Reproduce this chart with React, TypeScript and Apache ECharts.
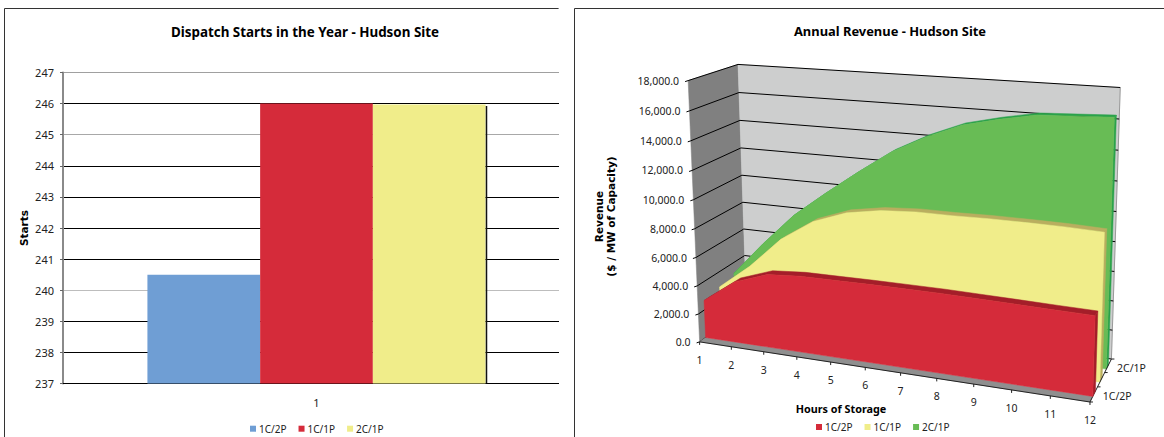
import React, { useEffect, useRef } from "react";
import * as echarts from "echarts";

// Dispatch starts chart
const startSeries = ["1C/2P", "1C/1P", "2C/1P"];
const startCategories = ["1"];
const startValues = [240.5, 246, 245.97];
const startColors = ["#6F9ED4", "#D52B3A", "#F0ED8A"];
const startGridColors = ["#000", "#000", "#000", "#BDBDBD", "#000", "#000", "#000", "#000", "#A8A8A8", "#000", "#A0A0A0"];

// Annual revenue chart
const hours = [1, 2, 3, 4, 5, 6, 7, 8, 9, 10, 11, 12];
const revenueTicks = [0, 2000, 4000, 6000, 8000, 10000, 12000, 14000, 16000, 18000];
const revenue1C2P = [2670, 4310, 5120, 5300, 5320, 5345, 5350, 5350, 5310, 5270, 5225, 5190];
const revenue1C1P = [2900, 4700, 6900, 8400, 9250, 9650, 9800, 9800, 9850, 9850, 9830, 9750];
const revenue2C1P = [3200, 5700, 8000, 9800, 11500, 13100, 14300, 15250, 15800, 16250, 16350, 16450];
const depthLabels = ["1C/2P", "2C/1P"];

const FONT = '"Noto Sans", sans-serif';
const WIDE = '"DejaVu Sans", sans-serif';

// Hidden cartesian grid the revenue series are scaled through before being projected.
const GX = 700, GY = 60, GW = 390, GH = 340;

// Least-squares camera: cube corners (u, depth, w) to page positions.
const corners = [
  [0, 0, 0, 699.7, 342.7],
  [0, 0, 1, 688.4, 80],
  [0, 1, 1, 737.7, 65],
  [0, 1, 0, 746.5, 307],
  [1, 1, 1, 1120.3, 87.5],
  [1, 1, 0, 1111.7, 359.3],
  [1, 0, 0, 1089.6, 401.7],
];

function solveCamera(): number[] {
  const rows: number[][] = [];
  const rhs: number[] = [];
  for (const [u, d, w, x, y] of corners) {
    rows.push([u, d, w, 1, 0, 0, 0, 0, -x * u, -x * d, -x * w]);
    rhs.push(x);
    rows.push([0, 0, 0, 0, u, d, w, 1, -y * u, -y * d, -y * w]);
    rhs.push(y);
  }
  const n = 11;
  const m: number[][] = [];
  for (let i = 0; i < n; i++) {
    const row = new Array(n + 1).fill(0);
    rows.forEach((r, k) => {
      for (let j = 0; j < n; j++) row[j] += r[i] * r[j];
      row[n] += r[i] * rhs[k];
    });
    m.push(row);
  }
  for (let i = 0; i < n; i++) {
    let p = i;
    for (let k = i + 1; k < n; k++) if (Math.abs(m[k][i]) > Math.abs(m[p][i])) p = k;
    [m[i], m[p]] = [m[p], m[i]];
    for (let k = 0; k < n; k++) {
      if (k === i) continue;
      const f = m[k][i] / m[i][i];
      for (let j = i; j <= n; j++) m[k][j] -= f * m[i][j];
    }
  }
  return m.map((r, i) => r[n] / r[i]);
}

const cam = solveCamera();
function project(u: number, d: number, w: number): number[] {
  const s = cam[8] * u + cam[9] * d + cam[10] * w + 1;
  return [
    (cam[0] * u + cam[1] * d + cam[2] * w + cam[3]) / s,
    (cam[4] * u + cam[5] * d + cam[6] * w + cam[7]) / s,
  ];
}

// Position in the 3D box of an (hour, revenue) pair, read through the hidden axes.
function cube(api: any, hour: number, value: number): number[] {
  const [px, py] = api.coord([hour, value]);
  return [(px - GX) / GW, (GY + GH - py) / GH];
}

const poly = (points: number[][], fill: string, stroke?: string) => ({
  type: "polygon",
  shape: { points },
  style: { fill, stroke: stroke || fill, lineWidth: 0.5 },
});
const seg = (a: number[], b: number[], stroke: string, lineWidth = 1) => ({
  type: "line",
  shape: { x1: a[0], y1: a[1], x2: b[0], y2: b[1] },
  style: { stroke, lineWidth },
});
const label = (text: string, x: number, y: number, align: string) => ({
  type: "text",
  style: { text, x, y, align, verticalAlign: "middle", fill: "#222", fontSize: 10.5, fontFamily: FONT },
});

const renderWalls = () => ({
  type: "group",
  children: [
    poly([project(0, 0, 0), project(0, 0, 1), project(0, 1, 1), project(0, 1, 0)], "#808080"),
    poly([project(0, 1, 0), project(0, 1, 1), project(1, 1, 1), project(1, 1, 0)], "#CDCECE"),
    seg(project(1, 1, 0), project(1, 1, 1), "#9A9A9A"),
  ],
});

const renderRevenueTick = (_: any, api: any) => {
  const value = api.value(1);
  const [, w] = cube(api, 1, value);
  const a = project(0, 0, w);
  const b = project(0, 1, w);
  const c = project(1, 1, w);
  return {
    type: "group",
    children: [
      seg([a[0] - 3, a[1] + 1], a, "#000"),
      seg(a, b, "#000"),
      seg(b, c, "#000"),
      label(value === 0 ? "0.0" : value.toLocaleString("en-US") + ".0", a[0] - 9, a[1], "right"),
    ],
  };
};

// One extruded area: back ribbon, end face at the last hour, then the front face.
function areaRenderer(d0: number, d1: number, face: string, edge: string) {
  return (params: any, api: any) => {
    if (params.dataIndexInside !== 0) return null;
    const n = params.dataInsideLength;
    const tops: number[][] = [];
    for (let i = 0; i < n; i++) tops.push(cube(api, api.value(0, i), api.value(1, i)));
    const frontTop = tops.map(([u, w]) => project(u, d0, w));
    const backTop = tops.map(([u, w]) => project(u, d1, w));
    const last = tops[n - 1];
    const first = tops[0];
    return {
      type: "group",
      children: [
        poly([...backTop, ...frontTop.slice().reverse()], edge),
        poly([project(1, d0, 0), project(1, d1, 0), project(1, d1, last[1]), project(1, d0, last[1])], edge),
        poly([project(first[0], d0, 0), ...frontTop, project(1, d0, 0)], face),
      ],
    };
  };
}

const FLOOR_FRONT = 0.12;

const renderHourTick = (params: any, api: any) => {
  const hour = api.value(0);
  const [u] = cube(api, hour, 0);
  const p = project(u, 0, 0);
  const children: any[] = [
    seg(p, [p[0], p[1] + 3], "#222"),
    label(String(hour), p[0], p[1] + 18, "center"),
  ];
  if (params.dataIndexInside === 0) {
    children.unshift(
      poly([project(0, 0, 0), project(0, FLOOR_FRONT, 0), project(1, FLOOR_FRONT, 0), project(1, 0, 0)], "#8F8F8F"),
      seg(project(0, 0, 0), project(1, 0, 0), "#222"),
      seg(project(1, 0, 0), project(1, 1, 0), "#222"),
    );
    [0, 1 / 3, 2 / 3, 1].forEach((d) => {
      const q = project(1, d, 0);
      children.push(seg(q, [q[0] + 3, q[1]], "#222"));
    });
    depthLabels.forEach((t, i) => {
      const q = project(1, i === 0 ? 1 / 6 : 5 / 6, 0);
      children.push(label(t, q[0] + 9, q[1] + 2, "left"));
    });
  }
  return { type: "group", children };
};

const legendItems = (colors: string[]) =>
  startSeries.map((name, i) => ({ name, itemStyle: { color: colors[i] } }));

const legendBase = {
  icon: "rect",
  itemWidth: 6,
  itemHeight: 6,
  itemGap: 12,
  padding: 0,
  selectedMode: false,
  textStyle: { fontFamily: FONT, fontSize: 10, color: "#222", padding: [0, 0, 0, -2] },
};

const axisTitle = (text: string, x: number, y: number, rotation = 0, font = WIDE, fontSize = 10) => ({
  type: "text",
  x,
  y,
  rotation,
  style: { text, align: "center", verticalAlign: "middle", fill: "#000", fontWeight: "bold", fontFamily: font, fontSize, lineHeight: 12 },
});

const option: any = {
  animation: false,
  backgroundColor: "#fff",
  title: [
    {
      text: "Dispatch Starts in the Year - Hudson Site",
      left: 305, top: 32, padding: 0, textAlign: "center", textVerticalAlign: "middle",
      textStyle: { fontFamily: FONT, fontSize: 13.4, fontWeight: "bold", color: "#000" },
    },
    {
      text: "Annual Revenue - Hudson Site",
      left: 890, top: 31, padding: 0, textAlign: "center", textVerticalAlign: "middle",
      textStyle: { fontFamily: FONT, fontSize: 12.9, fontWeight: "bold", color: "#000" },
    },
  ],
  legend: [
    { ...legendBase, data: legendItems(startColors), left: 250, top: 423.7 },
    { ...legendBase, data: legendItems(["#D52B3A", "#F0ED8A", "#68BC55"]), left: 816, top: 422 },
  ],
  grid: [
    { left: 63, top: 72.5, width: 507, height: 311 },
    { left: GX, top: GY, width: GW, height: GH },
  ],
  xAxis: [
    {
      type: "category", gridIndex: 0, data: startCategories,
      axisLine: { lineStyle: { color: "#000" } }, axisTick: { show: false },
      axisLabel: { margin: 13, color: "#222", fontFamily: FONT, fontSize: 11 },
    },
    { type: "value", gridIndex: 1, min: 1, max: 12, show: false },
  ],
  yAxis: [
    {
      type: "value", gridIndex: 0, min: 237, max: 247, interval: 1,
      name: "Starts", nameLocation: "middle", nameGap: 34,
      nameTextStyle: { fontFamily: WIDE, fontWeight: "bold", fontSize: 10.5, color: "#000" },
      axisLine: { show: true, lineStyle: { color: "#8A8A8A", width: 2 } },
      axisTick: { show: true, length: 3, lineStyle: { color: "#666" } },
      axisLabel: { margin: 9, color: "#222", fontFamily: FONT, fontSize: 11 },
      splitLine: { show: true, lineStyle: { color: startGridColors, width: 1 } },
    },
    { type: "value", gridIndex: 1, min: 0, max: 18000, interval: 2000, show: false },
  ],
  series: [
    ...startSeries.map((name, i) => ({
      type: "bar", name, xAxisIndex: 0, yAxisIndex: 0,
      data: [startValues[i]],
      barGap: 0, barCategoryGap: "33.3%",
      itemStyle: { color: startColors[i] },
    })),
    {
      type: "custom", xAxisIndex: 1, yAxisIndex: 1, z: 1, silent: true,
      data: [[1, 0]], encode: { x: 0, y: 1 }, renderItem: renderWalls,
    },
    {
      type: "custom", xAxisIndex: 1, yAxisIndex: 1, z: 2, silent: true,
      data: revenueTicks.map((v) => [1, v]), encode: { x: 0, y: 1 }, renderItem: renderRevenueTick,
    },
    {
      type: "custom", name: "2C/1P", xAxisIndex: 1, yAxisIndex: 1, z: 3, silent: true,
      data: hours.map((h, i) => [h, revenue2C1P[i]]), encode: { x: 0, y: 1 },
      renderItem: areaRenderer(0.75, 0.85, "#68BC55", "#2AA24A"),
    },
    {
      type: "custom", name: "1C/1P", xAxisIndex: 1, yAxisIndex: 1, z: 4, silent: true,
      data: hours.map((h, i) => [h, revenue1C1P[i]]), encode: { x: 0, y: 1 },
      renderItem: areaRenderer(0.44, 0.55, "#F0ED8A", "#B9AE5F"),
    },
    {
      type: "custom", xAxisIndex: 1, yAxisIndex: 1, z: 5, silent: true,
      data: hours.map((h) => [h, 0]), encode: { x: 0, y: 1 }, renderItem: renderHourTick,
    },
    {
      type: "custom", name: "1C/2P", xAxisIndex: 1, yAxisIndex: 1, z: 6, silent: true,
      data: hours.map((h, i) => [h, revenue1C2P[i]]), encode: { x: 0, y: 1 },
      renderItem: areaRenderer(FLOOR_FRONT, 0.24, "#D52B3A", "#A41E29"),
    },
  ],
  graphic: [
    { type: "rect", z: 100, shape: { x: 559, y: 0, width: 15, height: 437 }, style: { fill: "#fff" } },
    { type: "line", z: 101, shape: { x1: 486.5, y1: 106, x2: 486.5, y2: 383 }, style: { stroke: "#111", lineWidth: 1.5 } },
    { type: "line", z: 101, shape: { x1: 4.5, y1: 8.5, x2: 558.6, y2: 8.5 }, style: { stroke: "#333", lineWidth: 1 } },
    { type: "line", z: 101, shape: { x1: 4.5, y1: 8.5, x2: 4.5, y2: 437 }, style: { stroke: "#333", lineWidth: 1 } },
    { type: "line", z: 101, shape: { x1: 574.5, y1: 8.5, x2: 1164, y2: 8.5 }, style: { stroke: "#333", lineWidth: 1 } },
    { type: "line", z: 101, shape: { x1: 574.5, y1: 8.5, x2: 574.5, y2: 437 }, style: { stroke: "#333", lineWidth: 1 } },
    { ...axisTitle("Revenue\n($ / MW of Capacity)", 605, 216.5, Math.PI / 2, WIDE, 10.5), z: 101 },
    { ...axisTitle("Hours of Storage", 841, 408, 0, FONT, 10.8), z: 101 },
  ],
};

export default function App() {
  const ref = useRef<HTMLDivElement>(null);
  useEffect(() => {
    document.body.style.margin = "0";
    const chart = echarts.init(ref.current!, undefined, { renderer: "svg" });
    chart.setOption(option);
    return () => chart.dispose();
  }, []);
  return <div ref={ref} style={{ width: 1164, height: 437 }} />;
}
